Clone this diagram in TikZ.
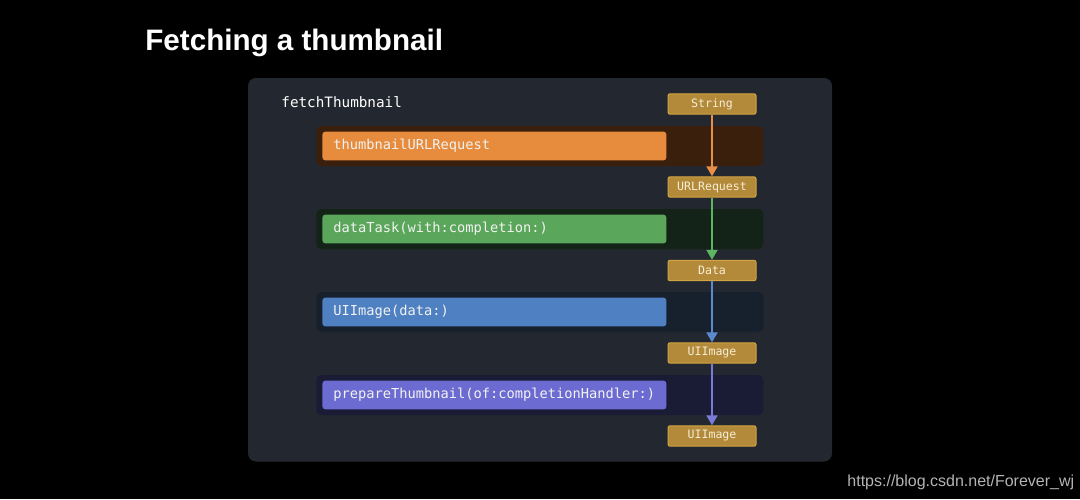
\documentclass[tikz,border=0pt]{standalone}
\usepackage{fontspec}
\usetikzlibrary{arrows.meta}
\newfontfamily\titlefont{Liberation Sans}
\newfontfamily\codefont{DejaVu Sans Mono}
\definecolor{panelbg}{HTML}{23272F}
\definecolor{bandA}{HTML}{3A1F0D}
\definecolor{bandB}{HTML}{142317}
\definecolor{bandC}{HTML}{17202D}
\definecolor{bandD}{HTML}{1A1B35}
\definecolor{barA}{HTML}{E78B3C}
\definecolor{barB}{HTML}{5AA65A}
\definecolor{barC}{HTML}{4F80C2}
\definecolor{barD}{HTML}{6B6BD1}
\definecolor{arrA}{HTML}{E98F45}
\definecolor{arrB}{HTML}{5DB463}
\definecolor{arrC}{HTML}{5B8AD0}
\definecolor{arrD}{HTML}{7A7AD8}
\definecolor{typefill}{HTML}{B3893A}
\definecolor{typeline}{HTML}{D2A444}
\definecolor{typetext}{HTML}{F7EED5}
\definecolor{bartext}{HTML}{F2F2F2}
\definecolor{wm}{HTML}{B4B4B4}
\tikzset{
  band/.style={fill=#1, draw=none, rounded corners=2.5pt, minimum width=223.5pt, minimum height=20pt, inner sep=0pt},
  bar/.style={fill=#1, draw=none, rounded corners=1.5pt, anchor=west, text width=161pt, inner xsep=5.5pt, inner ysep=0pt, minimum height=14.4pt, align=left, text=bartext, font=\codefont\fontsize{6.85pt}{8pt}\selectfont},
  typebox/.style={fill=typefill, draw=typeline, line width=0.5pt, rounded corners=1pt, minimum width=44pt, minimum height=10.2pt, inner sep=0pt, text=typetext, font=\codefont\fontsize{5.8pt}{7pt}\selectfont},
  flow/.style={draw=#1, line width=1pt, -{Triangle[width=5.5pt,length=5pt]}}
}
\begin{document}
\begin{tikzpicture}[x=0.5pt,y=-0.5pt]
\useasboundingbox[fill=black] (0,0) rectangle (1080,499);
\node[anchor=base west, text=white, font=\titlefont\bfseries\fontsize{14.8pt}{18pt}\selectfont, inner sep=0pt] (title) at (145,50) {Fetching a thumbnail};
\node[fill=panelbg, rounded corners=4pt, minimum width=292pt, minimum height=191.75pt, inner sep=0pt] (panel) at (540,269.75) {};
\node[anchor=west, text=white, inner sep=0pt, font=\codefont\fontsize{7.15pt}{8pt}\selectfont] (fn) at (281,102) {fetchThumbnail};
% bands
\node[band=bandA] (b1) at (539.75,146) {};
\node[band=bandB] (b2) at (539.75,229) {};
\node[band=bandC] (b3) at (539.75,312) {};
\node[band=bandD] (b4) at (539.75,395) {};
% bars
\node[bar=barA] (r1) at (322,146) {thumbnailURLRequest};
\node[bar=barB] (r2) at (322,229) {dataTask(with:completion:)};
\node[bar=barC] (r3) at (322,312) {UIImage(data:)};
\node[bar=barD] (r4) at (322,395) {prepareThumbnail(of:completionHandler:)};
% type boxes
\node[typebox] (t0) at (712,104) {String};
\node[typebox] (t1) at (712,187) {URLRequest};
\node[typebox] (t2) at (712,270.5) {Data};
\node[typebox] (t3) at (712,353) {UIImage};
\node[typebox] (t4) at (712,436) {UIImage};
% arrows
\draw[flow=arrA] (t0.south) -- (t1.north);
\draw[flow=arrB] (t1.south) -- (t2.north);
\draw[flow=arrC] (t2.south) -- (t3.north);
\draw[flow=arrD] (t3.south) -- (t4.north);
\node[anchor=base west, inner sep=0pt, text=wm, font=\titlefont\fontsize{8pt}{10pt}\selectfont] (wmk) at (847,486) {https://blog.csdn.net/Forever\_wj};
\end{tikzpicture}
\end{document}
